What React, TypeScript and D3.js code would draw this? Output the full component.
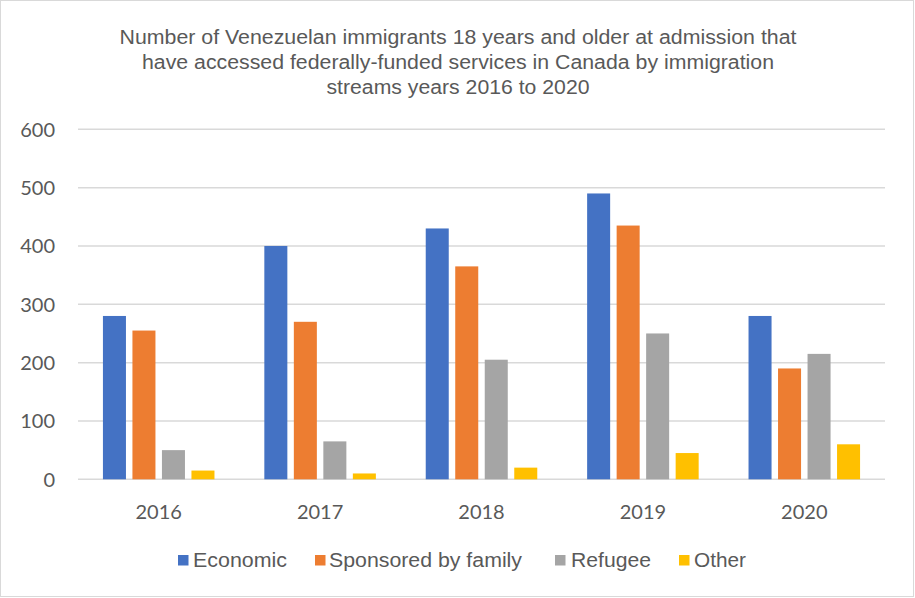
import React from "react";
import * as d3 from "d3";

const years = ["2016", "2017", "2018", "2019", "2020"];
const seriesNames = ["Economic", "Sponsored by family", "Refugee", "Other"];
const economic = [280, 400, 430, 490, 280];
const sponsored = [255, 270, 365, 435, 190];
const refugee = [50, 65, 205, 250, 215];
const other = [15, 10, 20, 45, 60];
const yTicks = [0, 100, 200, 300, 400, 500, 600];
const titleLines = [
  "Number of Venezuelan immigrants 18 years and older at admission that",
  "have accessed federally-funded services in Canada by immigration",
  "streams years 2016 to 2020",
];
const colors = ["#4472C4", "#ED7D31", "#A5A5A5", "#FFC000"];

const W = 915;
const H = 598;

export default function App() {
  const values = [economic, sponsored, refugee, other];
  const x0 = d3.scaleBand().domain(years).range([78, 885]).padding(0);
  const x1 = d3
    .scaleBand()
    .domain(seriesNames)
    .range([0, x0.bandwidth()])
    .paddingInner(0.22)
    .paddingOuter(0.845);
  const y = d3.scaleLinear().domain([0, 600]).range([479.3, 129.3]);
  const textColor = "#595959";
  const titleBaselines = [44, 69, 94];
  const titleWidths = [677, 632, 263];

  const legendItems = [
    { sq: 178, tx: 193, w: 94 },
    { sq: 315, tx: 329, w: 193 },
    { sq: 555, tx: 571, w: 80 },
    { sq: 679, tx: 694, w: 52 },
  ];

  return (
    <svg
      width={W}
      height={H}
      style={{ position: "absolute", left: 0, top: 0, background: "#fff" }}
    >
      <rect x={0.5} y={0.5} width={W - 2} height={H - 2} fill="#fff" stroke="#d9d9d9" strokeWidth={1} />
      {titleLines.map((t, i) => (
        <text
          key={i}
          x={458}
          y={titleBaselines[i]}
          textAnchor="middle"
          fontFamily="'Liberation Sans', Arial, sans-serif"
          fontSize={20}
          fill={textColor}
          textLength={titleWidths[i]}
          lengthAdjust="spacingAndGlyphs"
        >
          {t}
        </text>
      ))}
      {yTicks.map((t) => (
        <g key={t}>
          <line
            x1={78}
            x2={885}
            y1={y(t)}
            y2={y(t)}
            stroke="#d9d9d9"
            strokeWidth={1.5}
          />
          <text
            x={55}
            y={y(t)}
            dy="0.36em"
            textAnchor="end"
            fontFamily="Lato, 'Open Sans', sans-serif"
            fontSize={20}
            fill={textColor}
          >
            {t}
          </text>
        </g>
      ))}
      {years.map((yr, i) => (
        <g key={yr} transform={`translate(${x0(yr)},0)`}>
          {seriesNames.map((s, j) => (
            <rect
              key={s}
              x={x1(s)}
              y={y(values[j][i])}
              width={x1.bandwidth()}
              height={y(0) - y(values[j][i])}
              fill={colors[j]}
            />
          ))}
          <text
            x={x0.bandwidth() / 2}
            y={519}
            textAnchor="middle"
            fontFamily="Lato, 'Open Sans', sans-serif"
            fontSize={20}
            fill={textColor}
          >
            {yr}
          </text>
        </g>
      ))}
      {seriesNames.map((s, j) => (
        <g key={s}>
          <rect x={legendItems[j].sq} y={555} width={10.5} height={10.5} fill={colors[j]} />
          <text
            x={legendItems[j].tx}
            y={567}
            fontFamily="'Liberation Sans', Arial, sans-serif"
            fontSize={20}
            fill={textColor}
            textLength={legendItems[j].w}
            lengthAdjust="spacingAndGlyphs"
          >
            {s}
          </text>
        </g>
      ))}
    </svg>
  );
}
